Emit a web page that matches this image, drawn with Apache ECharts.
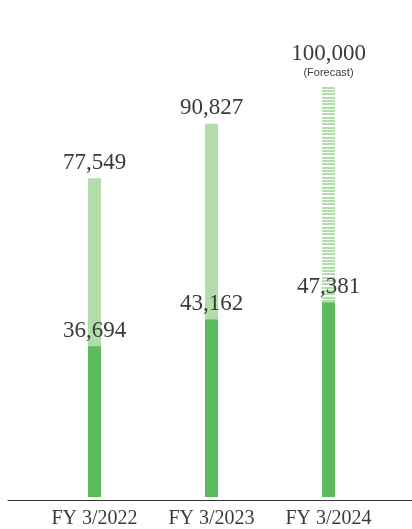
<!DOCTYPE html>
<html>
<head>
<meta charset="utf-8">
<script src="https://cdn.jsdelivr.net/npm/echarts@6/dist/echarts.min.js"></script>
<style>
html,body{margin:0;padding:0;background:#fff;}
#chart{width:412px;height:529px;}
</style>
</head>
<body>
<div id="chart"></div>
<script>
const categories = ['FY 3/2022', 'FY 3/2023', 'FY 3/2024'];
const totalValues = [77549, 90827, 100000];
const partValues = [36694, 43162, 47381];
const forecastFlags = [false, false, true];
const forecastNote = '(Forecast)';

const DARK = '#5cbb5c';
const LIGHT = '#b3dcab';
const TEXT = '#3a3a3a';

// striped pattern for the forecast bar
const pc = document.createElement('canvas');
pc.width = 4; pc.height = 10;
const pctx = pc.getContext('2d');
pctx.fillStyle = '#ffffff';
pctx.fillRect(0, 0, 4, 10);
pctx.fillStyle = LIGHT;
[0, 1, 3, 4, 7, 8].forEach(r => pctx.fillRect(0, r, 4, 1));

const fmt = v => Number(v).toLocaleString('en-US');

const chart = echarts.init(document.getElementById('chart'), null, {renderer: 'canvas'});
chart.setOption({
  animation: false,
  grid: [
    {left: 36, right: 25, top: 86, bottom: 29},
    {left: 8, right: 0, top: 86, bottom: 29}
  ],
  xAxis: [
    {
      type: 'category', gridIndex: 0, data: categories,
      axisLine: {show: false}, axisTick: {show: false},
      axisLabel: {color: TEXT, fontFamily: 'Liberation Serif', fontSize: 20, margin: 12}
    },
    {
      type: 'value', gridIndex: 1, min: 0, max: 1,
      axisLine: {show: true, onZero: false, lineStyle: {color: '#333', width: 1}},
      axisTick: {show: false}, axisLabel: {show: false}, splitLine: {show: false}
    }
  ],
  yAxis: [
    {type: 'value', gridIndex: 0, min: 0, max: 100000, show: false},
    {type: 'value', gridIndex: 1, min: 0, max: 1, show: false}
  ],
  series: [
    {
      type: 'bar', xAxisIndex: 0, yAxisIndex: 0,
      barWidth: 13, barGap: '-100%',
      data: totalValues.map((v, i) => forecastFlags[i] ? {
        value: v,
        itemStyle: {color: {image: pc, repeat: 'repeat'}},
        label: {
          formatter: p => '{a|' + fmt(p.value) + '}\n{b|' + forecastNote + '}',
          distance: 6
        }
      } : v),
      itemStyle: {color: LIGHT},
      label: {
        show: true, position: 'top', distance: 4,
        formatter: p => fmt(p.value),
        color: TEXT, fontFamily: 'Liberation Serif', fontSize: 23,
        rich: {
          a: {color: TEXT, fontFamily: 'Liberation Serif', fontSize: 23, lineHeight: 24},
          b: {color: TEXT, fontFamily: 'Liberation Sans', fontSize: 11, lineHeight: 14}
        }
      },
      z: 2
    },
    {
      type: 'bar', xAxisIndex: 0, yAxisIndex: 0,
      barWidth: 13, barGap: '-100%',
      data: partValues,
      itemStyle: {color: DARK},
      label: {
        show: true, position: 'top', distance: 4,
        formatter: p => fmt(p.value),
        color: TEXT, fontFamily: 'Liberation Serif', fontSize: 23
      },
      z: 3
    }
  ]
});
</script>
</body>
</html>
